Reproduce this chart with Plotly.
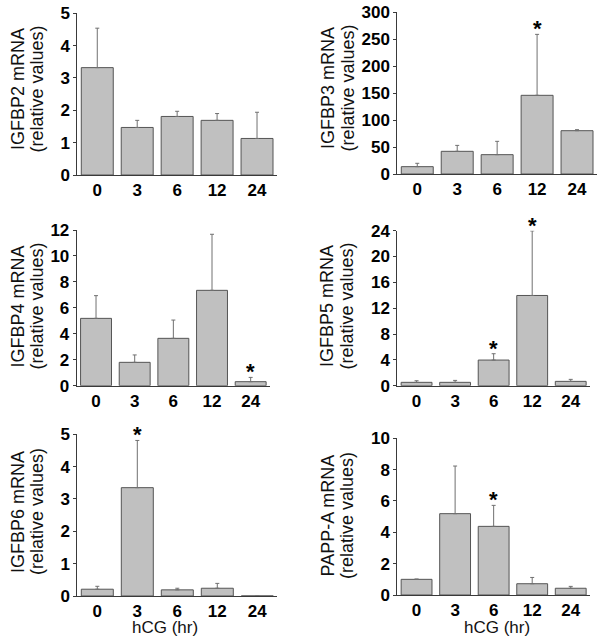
import plotly.graph_objects as go

W, H = 603, 638

# ---- data ----
times = ["0", "3", "6", "12", "24"]

igfbp2_mean = [3.32, 1.47, 1.81, 1.69, 1.13]
igfbp2_err = [1.22, 0.22, 0.16, 0.21, 0.81]

igfbp3_mean = [13.6, 42.0, 35.8, 145.7, 80.2]
igfbp3_err = [6.2, 11.0, 24.7, 112.9, 1.9]

igfbp4_mean = [5.19, 1.80, 3.65, 7.35, 0.31]
igfbp4_err = [1.75, 0.57, 1.41, 4.32, 0.33]

igfbp5_mean = [0.52, 0.52, 3.97, 13.97, 0.67]
igfbp5_err = [0.25, 0.30, 0.98, 10.0, 0.31]

igfbp6_mean = [0.21, 3.35, 0.19, 0.24, 0.0]
igfbp6_err = [0.09, 1.46, 0.05, 0.15, 0.0]

pappa_mean = [1.00, 5.19, 4.38, 0.72, 0.43]
pappa_err = [0.02, 3.04, 1.34, 0.40, 0.12]

titles = ["IGFBP2 mRNA", "IGFBP3 mRNA", "IGFBP4 mRNA",
          "IGFBP5 mRNA", "IGFBP6 mRNA", "PAPP-A mRNA"]
subtitle = "(relative values)"
xlabel = "hCG (hr)"

y_max = [5, 300, 12, 24, 5, 10]
y_dtick = [1, 50, 2, 4, 1, 2]

# significance markers: (panel index, category)
stars = [(1, "12"), (2, "24"), (3, "6"), (3, "12"), (4, "3"), (5, "6")]

means = [igfbp2_mean, igfbp3_mean, igfbp4_mean, igfbp5_mean, igfbp6_mean, pappa_mean]
errs = [igfbp2_err, igfbp3_err, igfbp4_err, igfbp5_err, igfbp6_err, pappa_err]

# ---- layout geometry in page pixels ----
# (left, right, top, bottom) of each plotting area
boxes = [
    (77.3, 277.0, 13.3, 175.0),
    (397.3, 597.0, 12.0, 174.0),
    (76.7, 270.0, 230.0, 385.7),
    (397.3, 590.0, 230.7, 385.7),
    (77.3, 277.3, 434.3, 596.0),
    (397.3, 590.0, 438.3, 595.0),
]
title_x = [(18.5, 37.0), (327.5, 347.0), (18.0, 37.0),
           (327.5, 347.0), (18.0, 37.0), (327.5, 347.0)]
title_y = [89.5, 88.5, 306.5, 306.5, 512.0, 516.0]

FONT = "Liberation Sans, Arial, sans-serif"
AXIS_COL = "#3a3a3a"

def px_x(p):
    return p / W

def px_y(p):
    return 1 - p / H

fig = go.Figure()
layout = {}
annotations = []

for i in range(6):
    n = "" if i == 0 else str(i + 1)
    l, r, t, b = boxes[i]
    fig.add_trace(go.Bar(
        x=times, y=means[i],
        xaxis="x" + n, yaxis="y" + n,
        marker=dict(color="#c0c0c0", line=dict(color="#555555", width=1)),
        error_y=dict(type="data", array=errs[i], arrayminus=[0] * 5,
                     symmetric=False, color="#707070", thickness=1, width=2),
        showlegend=False, hoverinfo="skip",
    ))
    layout["xaxis" + n] = dict(
        domain=[px_x(l), px_x(r)], anchor="y" + n, type="category",
        range=[-0.5, 4.5], showline=True, linecolor=AXIS_COL, linewidth=1,
        ticks="", showgrid=False, zeroline=False, automargin=False,
        ticklabeloverflow="allow",
        tickfont=dict(family=FONT, size=17, color="black", weight="bold"),
        fixedrange=True,
    )
    layout["yaxis" + n] = dict(
        domain=[px_y(b), px_y(t)], anchor="x" + n,
        range=[0, y_max[i]], dtick=y_dtick[i], tick0=0,
        showline=True, linecolor=AXIS_COL, linewidth=1,
        ticks="outside", ticklen=3, tickcolor=AXIS_COL,
        showgrid=False, zeroline=False, automargin=False,
        ticklabeloverflow="allow",
        tickfont=dict(family=FONT, size=17, color="black", weight="bold"),
        fixedrange=True,
    )
    # y titles (two lines drawn separately)
    for k, txt in enumerate([titles[i], subtitle]):
        annotations.append(dict(
            text=txt, xref="paper", yref="paper",
            x=px_x(title_x[i][k]), y=px_y(title_y[i]),
            xanchor="center", yanchor="middle", textangle=-90,
            showarrow=False,
            font=dict(family=FONT, size=18, color="#111111"),
        ))

# x titles on bottom row
for i in (4, 5):
    l, r, t, b = boxes[i]
    annotations.append(dict(
        text=xlabel, xref="paper", yref="paper",
        x=px_x((l + r) / 2 - 12 if i == 4 else (l + r) / 2 + 3), y=px_y(627),
        xanchor="center", yanchor="middle", showarrow=False,
        font=dict(family=FONT, size=17, color="#111111"),
    ))

# asterisks
for (i, cat) in stars:
    n = "" if i == 0 else str(i + 1)
    j = times.index(cat)
    annotations.append(dict(
        text="<b>*</b>", xref="x" + n, yref="y" + n,
        x=j, y=means[i][j] + errs[i][j],
        xanchor="center", yanchor="bottom", yshift=-9,
        showarrow=False,
        font=dict(family=FONT, size=22, color="black"),
    ))

fig.update_layout(
    **layout,
    annotations=annotations,
    width=W, height=H,
    margin=dict(l=0, r=0, t=0, b=0),
    paper_bgcolor="white", plot_bgcolor="white",
    bargap=0.2,
    showlegend=False,
    hovermode=False,
)

fig.write_html("out.html", config={"displayModeBar": False},
               post_script="document.body.style.margin='0';")
